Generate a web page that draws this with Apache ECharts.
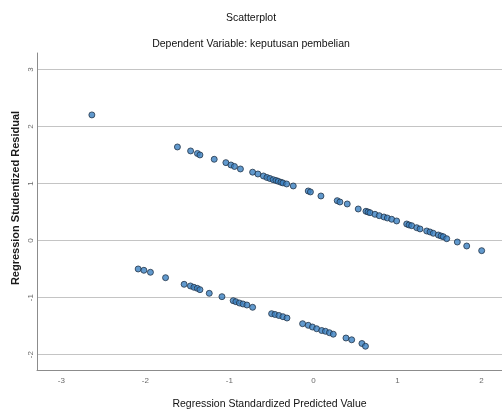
<!DOCTYPE html>
<html>
<head>
<meta charset="utf-8">
<title>Scatterplot</title>
<script src="https://cdn.jsdelivr.net/npm/echarts@6/dist/echarts.min.js"></script>
<style>
  html, body { margin: 0; padding: 0; background: #ffffff; }
  #chart { width: 502px; height: 410px; }
</style>
</head>
<body>
<div id="chart"></div>
<script>
// Regression Standardized Predicted Value (x) and Studentized Residual (y)
const upperPredicted = [-1.619, -1.462, -1.381, -1.351, -1.181, -1.042, -0.982, -0.940, -0.869, -0.724,
  -0.661, -0.595, -0.554, -0.518, -0.479, -0.446, -0.419, -0.387, -0.363, -0.319,
  -0.240, -0.062, -0.036, 0.089, 0.283, 0.315, 0.402, 0.533, 0.625, 0.649,
  0.673, 0.732, 0.783, 0.839, 0.879, 0.931, 0.990, 1.110, 1.137, 1.169,
  1.229, 1.268, 1.348, 1.387, 1.426, 1.486, 1.518, 1.545, 1.586, 1.712,
  1.824, 2.002];
const upperResidual = [1.642, 1.572, 1.528, 1.502, 1.426, 1.367, 1.326, 1.300, 1.256, 1.200,
  1.168, 1.133, 1.107, 1.089, 1.068, 1.054, 1.040, 1.023, 1.011, 0.993,
  0.958, 0.870, 0.853, 0.782, 0.700, 0.677, 0.642, 0.554, 0.514, 0.502,
  0.489, 0.461, 0.437, 0.414, 0.396, 0.374, 0.344, 0.291, 0.274, 0.261,
  0.226, 0.204, 0.168, 0.151, 0.128, 0.098, 0.081, 0.068, 0.033, -0.025,
  -0.095, -0.177];

const lowerPredicted = [-2.086, -2.018, -1.940, -1.760, -1.539, -1.464, -1.423, -1.383, -1.351, -1.240,
  -1.089, -0.955, -0.923, -0.881, -0.839, -0.792, -0.724, -0.498, -0.458, -0.411,
  -0.363, -0.315, -0.129, -0.062, -0.012, 0.038, 0.098, 0.143, 0.190, 0.236,
  0.387, 0.455, 0.577, 0.619];
const lowerResidual = [-0.498, -0.521, -0.556, -0.651, -0.767, -0.796, -0.819, -0.837, -0.861, -0.925,
  -0.984, -1.054, -1.072, -1.095, -1.112, -1.130, -1.170, -1.282, -1.296, -1.314,
  -1.335, -1.358, -1.458, -1.486, -1.516, -1.546, -1.577, -1.591, -1.616, -1.642,
  -1.709, -1.740, -1.805, -1.853];

const outlierPredicted = [-2.637];
const outlierResidual = [2.204];

// Tick values shown on each axis
const xTicks = [-3, -2, -1, 0, 1, 2];
const yTicks = [-2, -1, 0, 1, 2, 3];

const chartTitle = 'Scatterplot';
const chartSubtitle = 'Dependent Variable: keputusan pembelian';
const xAxisName = 'Regression Standardized Predicted Value';
const yAxisName = 'Regression Studentized Residual';

function pairs(xs, ys) {
  return xs.map((x, i) => [x, ys[i]]);
}
const points = []
  .concat(pairs(outlierPredicted, outlierResidual))
  .concat(pairs(upperPredicted, upperResidual))
  .concat(pairs(lowerPredicted, lowerResidual));

const sans = '"Liberation Sans", Arial, sans-serif';

const chart = echarts.init(document.getElementById('chart'), null, { renderer: 'canvas' });
chart.setOption({
  backgroundColor: '#ffffff',
  animation: false,
  title: [
    {
      text: chartTitle,
      left: 'center',
      top: 8,
      textStyle: { fontFamily: sans, fontSize: 10.5, fontWeight: 'normal', color: '#111111' }
    },
    {
      text: chartSubtitle,
      left: 'center',
      top: 34,
      textStyle: { fontFamily: sans, fontSize: 10.5, fontWeight: 'normal', color: '#111111' }
    }
  ],
  grid: { left: 37, right: 0, top: 53, bottom: 40, containLabel: false, outerBoundsMode: 'none' },
  xAxis: {
    type: 'value',
    min: -3.29,
    max: 2.244,
    name: xAxisName,
    nameLocation: 'middle',
    nameGap: 29,
    nameTextStyle: { fontFamily: sans, fontSize: 10.5, color: '#111111' },
    axisLine: { show: true, onZero: false, lineStyle: { color: '#8c8c8c', width: 1 } },
    axisTick: { show: false, customValues: xTicks },
    axisLabel: {
      customValues: xTicks,
      fontFamily: sans,
      fontSize: 8,
      color: '#6a6a6a',
      margin: 7
    },
    splitLine: { show: false }
  },
  yAxis: {
    type: 'value',
    min: -2.27,
    max: 3.29,
    axisLine: { show: true, onZero: false, lineStyle: { color: '#8c8c8c', width: 1 } },
    axisTick: { show: false, customValues: yTicks },
    axisLabel: {
      customValues: yTicks,
      fontFamily: sans,
      fontSize: 8,
      color: '#6a6a6a',
      rotate: 90,
      margin: 2
    },
    splitLine: { show: true, lineStyle: { color: '#c4c4c4', width: 1 } }
  },
  graphic: [
    {
      type: 'text',
      rotation: Math.PI / 2,
      x: 16,
      y: 198,
      style: {
        text: yAxisName,
        fontFamily: sans,
        fontSize: 11,
        fontWeight: 'bold',
        fill: '#1a1a1a',
        align: 'center',
        verticalAlign: 'middle'
      }
    }
  ],
  series: [
    {
      type: 'scatter',
      data: points,
      symbol: 'circle',
      symbolSize: 6,
      itemStyle: {
        color: '#3a7fc0',
        borderColor: '#233449',
        borderWidth: 1
      }
    }
  ]
});
</script>
</body>
</html>
